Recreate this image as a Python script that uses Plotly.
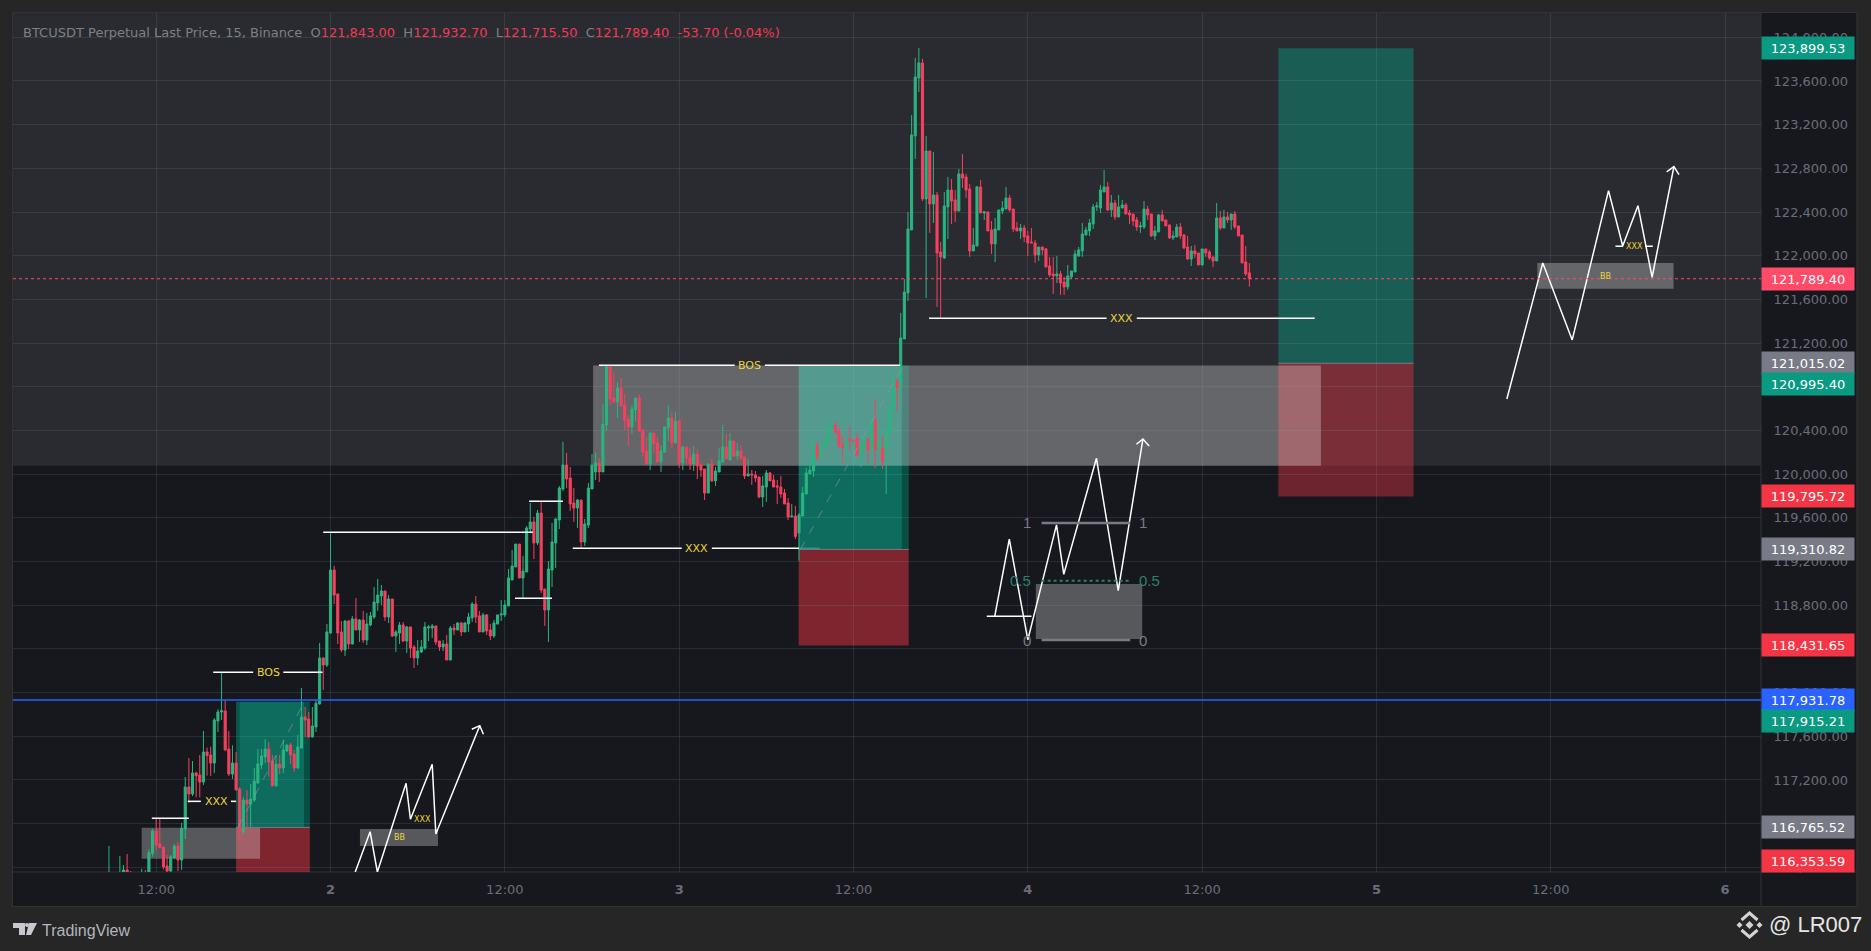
"""BTCUSDT 15 minute chart with the hand drawn zones, rebuilt in plotly."""

import pandas as pd
import plotly.graph_objects as go

# candles, 15 minute bars
first_bar = "2025-10-01 08:45"
open_prices = [
    116250,116300,116200,116280,116300,116375,116340,116260,116240,116290,
    116330,116270,116525,116733,116614,116583,116412,116366,116488,116596,
    116467,116751,117135,117071,117263,117245,117181,117456,117428,117355,
    117740,117822,117831,117483,117254,117355,117117,116723,117016,116980,
    117016,117172,117337,117410,117483,117373,117145,117346,117309,117465,
    117520,117437,117309,117492,117776,117758,117593,117685,117896,118317,
    118252,118545,119122,118903,118555,118390,118655,118445,118674,118573,
    118664,118481,118619,118692,118820,118884,118930,118692,118857,118518,
    118545,118619,118472,118601,118417,118317,118372,118408,118591,118591,
    118610,118472,118417,118445,118298,118591,118573,118637,118555,118628,
    118683,118811,118702,118555,118711,118573,118518,118628,118711,118711,
    118793,119031,119150,119360,119049,119104,119498,119562,119370,119644,
    118948,118756,119122,119370,119580,119864,120084,119965,119736,119690,
    119763,119379,119534,119864,120020,120102,120020,120450,120990,120697,
    120661,120789,120633,120505,120432,120588,120697,120404,120212,120093,
    120377,120285,120112,120203,120423,120514,120285,120487,120102,120249,
    120157,120093,120185,120084,120047,119827,120093,119938,120020,120112,
    120249,120130,120304,120167,120212,120157,119983,120002,119993,119974,
    119791,119882,120011,119946,119892,119882,119827,119736,119608,119616,
    119461,119616,119818,120002,120029,120267,120157,120249,120295,120414,
    120450,120395,120267,120249,120322,120300,120331,120166,120249,120322,
    120221,120505,120221,120240,120230,120395,120597,120862,120789,121238,
    121659,122236,123097,123628,123765,122520,122959,122474,122556,122034,
    121979,122447,122602,122511,122410,122749,122721,122611,122044,122089,
    122630,122392,122401,122236,122108,122236,122410,122428,122529,122428,
    122254,122227,122254,122181,122126,122117,122007,122080,122062,121906,
    121833,121815,121833,121760,121714,121806,121851,121998,122044,122190,
    122227,122291,122447,122437,122584,122630,122419,122483,122355,122437,
    122465,122392,122382,122327,122263,122263,122428,122382,122181,122218,
    122373,122327,122282,122163,122172,122263,122190,122080,121970,122044,
    122025,121915,122062,122034,121989,121952,122346,122254,122355,122327,
    122382,122273,122190,121943,121843,
]
high_prices = [
    116595,116340,116300,116503,116421,116522,116366,116320,116310,116387,
    116375,116565,116751,116849,116849,116590,116513,116513,116614,116634,
    116806,117227,117401,117373,117275,117428,117648,117495,117504,117767,
    117847,118188,117932,117648,117517,117456,117135,117044,117108,117163,
    117309,117483,117483,117575,117548,117428,117428,117428,117566,117520,
    117539,117474,117612,118042,117868,117822,117868,117932,118454,118320,
    118628,119468,119159,118903,118655,118664,118664,118702,118866,118674,
    118747,118729,118738,118967,119040,118985,118930,118893,118857,118573,
    118646,118646,118610,118601,118436,118481,118481,118646,118619,118628,
    118610,118472,118481,118527,118610,118628,118646,118646,118646,118729,
    118829,118884,118747,118729,118720,118628,118664,118711,118848,118848,
    119132,119306,119360,119360,119251,119525,119736,119608,119672,119745,
    118948,119205,119553,119598,119892,120295,120194,120066,119873,119773,
    119763,119589,119919,120185,120194,120148,120643,120995,120990,120926,
    120844,120880,120734,120542,120633,120697,120734,120404,120340,120377,
    120377,120340,120267,120432,120633,120570,120570,120505,120258,120249,
    120240,120258,120230,120102,120047,120093,120139,120066,120240,120450,
    120368,120377,120304,120285,120267,120157,120139,120038,120029,119974,
    119983,120038,120020,119993,119946,119983,119864,119782,119727,119708,
    119644,119882,120057,120166,120340,120304,120267,120340,120487,120487,
    120478,120423,120340,120313,120441,120310,120377,120313,120331,120322,
    120505,120688,120523,120359,120420,120752,120936,120862,121476,121787,
    122401,123289,123811,123902,123802,123097,122959,122950,122584,122126,
    122584,122721,122703,122602,122794,122932,122749,122657,122254,122639,
    122694,122410,122401,122318,122346,122419,122501,122630,122556,122428,
    122309,122291,122282,122227,122254,122144,122080,122080,122071,121989,
    121989,121998,121860,121806,121915,121860,122053,122080,122300,122263,
    122337,122474,122492,122648,122785,122675,122556,122511,122556,122511,
    122483,122419,122382,122355,122309,122501,122456,122382,122273,122382,
    122419,122327,122282,122227,122291,122300,122199,122181,122089,122098,
    122025,122062,122062,122053,121989,122483,122410,122419,122401,122382,
    122410,122273,122190,122089,121932.7,
]
low_prices = [
    116100,116150,116120,116200,116250,116280,116230,116200,116180,116250,
    116250,116250,116497,116558,116577,116380,116340,116350,116475,116366,
    116375,116660,116989,117053,117041,117041,117154,117239,117236,117263,
    117639,117749,117468,117236,117209,117108,116650,116696,116751,116760,
    116998,117165,117300,117355,117230,117145,117140,117254,117263,117460,
    117346,117273,117305,117488,117593,117590,117590,117639,117890,118023,
    118234,118540,118811,118445,118372,118335,118399,118440,118573,118463,
    118454,118436,118610,118674,118747,118802,118655,118637,118509,118372,
    118445,118463,118362,118317,118225,118252,118362,118390,118472,118500,
    118436,118381,118381,118298,118298,118527,118573,118518,118555,118555,
    118646,118637,118555,118555,118527,118481,118500,118625,118655,118692,
    118793,119031,119150,119049,118866,119104,119470,119223,119351,118912,
    118610,118463,118967,119141,119498,119846,119873,119663,119562,119507,
    119315,119342,119507,119864,119946,119928,120020,120395,120633,120652,
    120514,120625,120404,120258,120368,120487,120386,120157,120093,120038,
    120185,120112,120020,120194,120304,120240,120285,120057,120038,120084,
    120038,120029,119956,119974,119763,119827,119928,119892,120020,120112,
    120139,120121,120157,120130,120130,119956,119983,119901,119928,119782,
    119699,119745,119938,119882,119727,119782,119727,119580,119608,119406,
    119208,119616,119818,120002,119974,120121,120157,120249,120295,120414,
    120368,120240,120102,120157,120221,120290,120166,120066,120249,120102,
    120221,120057,120221,120047,119818,120395,120597,120578,120789,121238,
    121586,122236,122886,123500,122502,121613,122208,122300,121531,121430,
    121970,122153,122291,122309,122410,122620,122529,121989,122044,122089,
    122392,122327,122227,122016,121943,122236,122382,122428,122401,122218,
    122227,122153,122126,121998,122117,121934,121952,122007,121897,121806,
    121650,121751,121641,121641,121687,121787,121851,121989,121989,122190,
    122181,122245,122410,122392,122584,122410,122355,122327,122355,122437,
    122382,122291,122273,122227,122209,122245,122327,122172,122144,122218,
    122318,122273,122153,122144,122172,122153,122062,121961,121906,121979,
    121915,121915,121989,121961,121897,121952,122236,122254,122300,122236,
    122245,122181,121934,121815,121715.5,
]
close_prices = [
    116300,116200,116280,116340,116375,116300,116260,116240,116290,116330,
    116270,116534,116733,116604,116580,116403,116366,116497,116596,116467,
    116757,117135,117071,117263,117239,117181,117456,117422,117355,117749,
    117822,117834,117474,117254,117355,117108,116723,117016,116980,117025,
    117190,117346,117419,117483,117364,117145,117346,117309,117474,117520,
    117428,117309,117502,117776,117749,117593,117694,117902,118317,118252,
    118555,119122,118893,118545,118390,118655,118445,118674,118573,118664,
    118481,118628,118702,118829,118893,118930,118692,118857,118518,118555,
    118619,118472,118601,118408,118317,118381,118417,118601,118601,118610,
    118463,118417,118445,118298,118591,118573,118637,118555,118637,118692,
    118811,118692,118555,118711,118564,118518,118637,118711,118720,118802,
    119049,119159,119360,119049,119113,119507,119562,119370,119644,118939,
    118756,119132,119379,119589,119873,120084,119956,119727,119690,119763,
    119379,119544,119873,120084,120102,120020,120459,120990,120688,120661,
    120789,120625,120496,120432,120597,120697,120395,120203,120093,120377,
    120276,120112,120212,120432,120514,120285,120487,120102,120249,120148,
    120093,120185,120075,120038,119827,120093,119938,120029,120121,120249,
    120139,120304,120167,120212,120148,119983,120002,119993,119965,119791,
    119892,120011,119938,119882,119882,119818,119727,119608,119616,119430,
    119626,119827,120011,120038,120267,120157,120258,120304,120423,120450,
    120386,120258,120240,120295,120304,120300,120166,120258,120322,120221,
    120496,120221,120313,120112,120404,120606,120862,120789,121247,121668,
    122245,123106,123637,123765,122520,122959,122474,122556,122025,121989,
    122456,122602,122501,122410,122749,122712,122602,122044,122098,122630,
    122392,122401,122227,122108,122245,122419,122437,122529,122419,122245,
    122227,122254,122172,122117,122117,122007,122080,122053,121897,121824,
    121815,121833,121751,121714,121815,121860,122016,122053,122199,122236,
    122300,122447,122456,122602,122630,122419,122483,122355,122447,122465,
    122382,122373,122318,122263,122273,122428,122373,122181,122227,122373,
    122318,122273,122163,122181,122263,122181,122071,121970,122044,122016,
    121915,122062,122025,121979,121952,122346,122254,122355,122327,122382,
    122263,122181,121934,121833,121789.4,
]

# axes
price_ticks = list(range(116400, 124001, 400))
time_ticks = ["2025-10-01 12:00", "2025-10-02", "2025-10-02 12:00", "2025-10-03", "2025-10-03 12:00",
              "2025-10-04", "2025-10-04 12:00", "2025-10-05", "2025-10-05 12:00", "2025-10-06"]
time_labels = ["12:00", "<b>2</b>", "12:00", "<b>3</b>", "12:00", "<b>4</b>", "12:00", "<b>5</b>", "12:00", "<b>6</b>"]

# price tags on the right axis
tag_prices = [123899.53, 121789.40, 121015.02, 120995.40, 119795.72, 119310.82,
              118431.65, 117931.78, 117915.21, 116765.52, 116353.59]
tag_colors = ["#0a9981", "#ff4a68", "#787b86", "#0a9981", "#f23645", "#787b86",
              "#f23645", "#2962ff", "#0a9981", "#787b86", "#f23645"]

last_price = 121789.40
blue_level = 117931.78
band_floor = 120076

# drawings: bar numbers count 15 minute bars from the start of day 2
# long positions: left bar, right bar, target, entry, stop
positions = [
    (-26.0, -5.7, 117915.21, 116765.52, 116353.59),
    (128.9, 159.2, 120995.40, 119310.82, 118431.65),
    (261.0, 298.2, 123899.53, 121015.02, 119795.72),
]
# the top right one sits on the lighter band and looks duller
position_alpha = [(0.65, 0.47), (0.65, 0.47), (0.46, 0.40)]
position_diagonal = [True, True, False]
# grey order blocks: left bar, right bar, top, bottom
blocks = [
    (-52.0, -19.4, 116762, 116478),
    (8.1, 29.6, 116751, 116595),
    (72.3, 272.7, 120994, 120076),
    (194.2, 223.5, 118994, 118491),
    (332.3, 369.8, 121934, 121698),
]
# white levels: left bar, right bar, price
levels = [
    (73.9, 111.3, 120998), (119.6, 156.8, 120998),
    (-32.3, -21.3, 118186), (-13.0, -2.2, 118186),
    (-39.3, -35.7, 117004), (-27.4, -26.0, 117004),
    (-49.2, -39.0, 116849),
    (-2.0, 55.7, 119468),
    (54.7, 64.0, 119751),
    (50.8, 61.0, 118863),
    (66.7, 96.7, 119321), (105.0, 129.0, 119321),
    (164.8, 213.7, 121427), (222.0, 271.0, 121427),
    (180.7, 193.0, 118699),
    (353.8, 355.9, 122087), (362.0, 364.1, 122087),
]
# yellow labels: bar, price, text, size
marks = [
    (115.5, 120998, "BOS", 11), (-17.0, 118186, "BOS", 11),
    (-31.5, 117004, "XXX", 11), (100.8, 119321, "XXX", 11), (217.9, 121427, "XXX", 11),
    (25.4, 116840, "XXX", 8), (359.0, 122087, "XXX", 8),
    (19.0, 116671, "BB", 8), (351.0, 121812, "BB", 8),
]
# fib: left bar, right bar
fib_span = (195.8, 220.2)
fib_levels = [119553, 119024, 118481]
fib_names = ["1", "0.5", "0"]
fib_colors = ["#787b86", "#2f7f6c", "#787b86"]
fib_text_bars = [(191.7, 223.6), (189.9, 225.4), (191.7, 223.6)]

# white zigzags with arrow heads
zig_bars = [
    [6.8, 10.9, 12.9, 20.8, 22.0, 28.0, 29.0, 41.1],
    [182.9, 186.9, 192.0, 199.9, 201.9, 210.9, 216.9, 223.7],
    [323.9, 333.8, 341.9, 351.9, 355.8, 360.0, 363.9, 369.9],
]
zig_prices = [
    [116357, 116726, 116357, 117169, 116840, 117343, 116705, 117697],
    [118699, 119406, 118482, 119535, 119083, 120145, 118933, 120322],
    [120688, 121934, 121229, 122596, 122089, 122458, 121803, 122816],
]
head_bars = [[38.9, 41.1, 42.1], [221.9, 223.7, 225.4], [367.9, 369.9, 371.3]]
head_prices = [[117664, 117697, 117618], [120274, 120322, 120258], [122767, 122816, 122742]]

# page layout in pixels
WIDTH, HEIGHT = 1871, 951
PLOT_L, PLOT_R, PLOT_T, PLOT_B = 13, 1761.5, 13, 872

GREEN = "#2bb481"
RED = "#f6405f"
YELLOW = "#ecd63c"
FONT = "DejaVu Sans"
# see-through so the grid stays faint where it crosses the zones
GRID = "rgba(150,190,200,0.13)"

bar_zero = pd.Timestamp("2025-10-02")


def at(bar):
    return str(bar_zero + pd.Timedelta(minutes=15 * bar))


def page_x(px):
    return (px - PLOT_L) / (PLOT_R - PLOT_L)


def page_y(py):
    return (PLOT_B - py) / (PLOT_B - PLOT_T)


def page_path(points, close=True):
    parts = [f"{'M' if n == 0 else 'L'} {page_x(px):.5f} {page_y(py):.5f}" for n, (px, py) in enumerate(points)]
    return " ".join(parts) + (" Z" if close else "")


times = pd.date_range(first_bar, periods=len(open_prices), freq="15min")

fig = go.Figure()
fig.add_trace(go.Candlestick(
    x=times, open=open_prices, high=high_prices, low=low_prices, close=close_prices,
    increasing=dict(line=dict(color=GREEN, width=1), fillcolor=GREEN),
    decreasing=dict(line=dict(color=RED, width=1), fillcolor=RED),
    whiskerwidth=0, showlegend=False, hoverinfo="skip",
))

shapes = []


def box(bar0, bar1, top, bottom, color):
    shapes.append(dict(type="rect", xref="x", yref="y", x0=at(bar0), x1=at(bar1), y0=bottom, y1=top,
                       fillcolor=color, line=dict(width=0), layer="below"))


def hline(bar0, bar1, price, color="#ffffff", width=1.5, dash="solid"):
    shapes.append(dict(type="line", xref="x", yref="y", x0=at(bar0), x1=at(bar1), y0=price, y1=price,
                       line=dict(color=color, width=width, dash=dash), layer="above"))


# chart panel and lighter band on top of it
shapes.append(dict(type="rect", xref="paper", yref="paper", x0=page_x(12.5), x1=page_x(1857.5),
                   y0=page_y(906.5), y1=page_y(12.5), fillcolor="#17181e",
                   line=dict(color="#333336", width=1), layer="below"))
shapes.append(dict(type="rect", xref="x domain", yref="y", x0=0, x1=1, y0=band_floor, y1=124222,
                   fillcolor="rgba(255,255,255,0.083)", line=dict(width=0), layer="below"))

# long positions
for (bar0, bar1, target, entry, stop), (up, down), diagonal in zip(positions, position_alpha, position_diagonal):
    box(bar0, bar1, target, entry, f"rgba(8,153,129,{up})")
    box(bar0, bar1, entry, stop, f"rgba(242,54,69,{down})")
    hline(bar0, bar1, entry, color="#787b86", width=1)
    if diagonal:
        shapes.append(dict(type="line", xref="x", yref="y", x0=at(bar0 + 0.5), x1=at(bar1 - 1.5), y0=entry, y1=target,
                           line=dict(color="rgba(150,153,160,0.6)", width=1, dash="dash"), layer="above"))
# darker dotted strips on the first two
box(-26.0, -25.0, 117915.21, 116765.52, "rgba(0,0,0,0.2)")
box(-7.3, -5.7, 117915.21, 116765.52, "rgba(0,0,0,0.28)")
box(157.3, 159.2, 120995.40, 119310.82, "rgba(0,0,0,0.28)")

for bar0, bar1, top, bottom in blocks:
    box(bar0, bar1, top, bottom, "rgba(255,255,255,0.28)")

# levels
for bar0, bar1, price in levels:
    hline(bar0, bar1, price)
hline(129.0, 134.7, 119321, color="#2f9c82")
for price, color, width, dash in zip(fib_levels, fib_colors, [2.5, 2, 2.5], ["solid", "dot", "solid"]):
    hline(fib_span[0], fib_span[1], price, color=color, width=width, dash=dash)

shapes.append(dict(type="line", xref="x domain", yref="y", x0=0, x1=1, y0=last_price, y1=last_price,
                   line=dict(color="#ff4a68", width=1, dash="dot"), layer="above"))
shapes.append(dict(type="line", xref="x domain", yref="y", x0=0, x1=1, y0=blue_level, y1=blue_level,
                   line=dict(color="#2962ff", width=1.5), layer="above"))

# frame lines of the axis panels
shapes.append(dict(type="line", xref="paper", yref="paper", x0=page_x(PLOT_L), x1=page_x(1857.5),
                   y0=page_y(PLOT_B), y1=page_y(PLOT_B), line=dict(color="#2e3238", width=1), layer="below"))
shapes.append(dict(type="line", xref="paper", yref="paper", x0=page_x(PLOT_R), x1=page_x(PLOT_R),
                   y0=page_y(906.5), y1=page_y(12.5), line=dict(color="#2e3238", width=1), layer="below"))

# TradingView logo
logo = "#c8c9cc"
for pts in [
    [(13, 923), (25, 923), (25, 935), (19, 935), (19, 928), (13, 928)],
    [(29, 923), (37, 923), (31, 935), (26, 935)],
]:
    shapes.append(dict(type="path", xref="paper", yref="paper", path=page_path(pts),
                       fillcolor=logo, line=dict(width=0)))
shapes.append(dict(type="circle", xref="paper", yref="paper", x0=page_x(25), x1=page_x(29),
                   y0=page_y(927), y1=page_y(923), fillcolor=logo, line=dict(width=0)))

# binance mark
cx, cy = 1750, 925
binance = "#d4d4d4"
for dx, dy, r in [(0, 0, 4), (-10, 0, 3), (10, 0, 3)]:
    pts = [(cx + dx - r, cy + dy), (cx + dx, cy + dy - r), (cx + dx + r, cy + dy), (cx + dx, cy + dy + r)]
    shapes.append(dict(type="path", xref="paper", yref="paper", path=page_path(pts),
                       fillcolor=binance, line=dict(width=0)))
for sign in (-1, 1):
    pts = [(cx - 8, cy + sign * 5), (cx, cy + sign * 12), (cx + 8, cy + sign * 5)]
    shapes.append(dict(type="path", xref="paper", yref="paper", path=page_path(pts, close=False),
                       line=dict(color=binance, width=3)))

# zigzags
for bars, prices in zip(zig_bars + head_bars, zig_prices + head_prices):
    fig.add_trace(go.Scatter(x=[at(b) for b in bars], y=prices, mode="lines",
                             line=dict(color="#ffffff", width=1.5), showlegend=False, hoverinfo="skip"))

annotations = []


def page_text(px, py, text, size, color, anchor="left", family=FONT):
    annotations.append(dict(xref="paper", yref="paper", x=page_x(px), y=page_y(py), text=text, showarrow=False,
                            xanchor=anchor, yanchor="middle", font=dict(family=family, size=size, color=color)))


for bar, price, text, size in marks:
    annotations.append(dict(x=at(bar), y=price, text=text, showarrow=False,
                            font=dict(family=FONT, size=size, color=YELLOW)))

for price, name, color, bars in zip(fib_levels, fib_names, fib_colors, fib_text_bars):
    for bar in bars:
        annotations.append(dict(x=at(bar), y=price, text=name, showarrow=False,
                                font=dict(family="Liberation Sans", size=15, color=color)))

# price tags, the stacked ones are pushed clear of each other
tag_shift = {120995.40: -18.5, 117915.21: -19, 116353.59: 11}
for price, color in zip(tag_prices, tag_colors):
    annotations.append(dict(xref="paper", yref="y", x=1, xanchor="left", y=max(price, 116360),
                            yshift=tag_shift.get(price, 0), xshift=0, text=f"{price:,.2f}", showarrow=False,
                            width=90, height=20, bgcolor=color,
                            font=dict(family=FONT, size=13, color="#ffffff")))

# header line
val = '<span style="color:#f23a50">{}</span>'
legend = ("BTCUSDT Perpetual Last Price, 15, Binance  O" + val.format("121,843.00")
          + "  H" + val.format("121,932.70") + "  L" + val.format("121,715.50")
          + "  C" + val.format("121,789.40") + "  " + val.format("-53.70 (-0.04%)"))
page_text(21, 33, legend, 13, "#7d8087")
page_text(40, 930, "TradingView", 16, "#b2b5be", family="Liberation Sans")
page_text(1865, 924, "@ LR007", 22, "#e6e6e6", anchor="right", family="Liberation Sans")

fig.update_layout(
    width=WIDTH, height=HEIGHT,
    margin=dict(l=PLOT_L, r=WIDTH - PLOT_R, t=PLOT_T, b=HEIGHT - PLOT_B, autoexpand=False),
    paper_bgcolor="#262626", plot_bgcolor="#17181e",
    showlegend=False, hovermode=False, boxgap=0.18,
    shapes=shapes, annotations=annotations,
    font=dict(family=FONT, size=13, color="#6a6d78"),
    xaxis=dict(
        type="date", range=["2025-10-01 02:08:35", "2025-10-06 02:28:12"],
        rangeslider=dict(visible=False),
        tickmode="array", tickvals=time_ticks, ticktext=time_labels,
        showgrid=True, gridcolor=GRID, gridwidth=1, zeroline=False, showline=False,
        ticks="outside", ticklen=5, tickcolor="rgba(0,0,0,0)",
        tickfont=dict(family=FONT, size=13, color="#6a6d78"),
    ),
    yaxis=dict(
        side="right", range=[116357, 124222.5],
        tickmode="array", tickvals=price_ticks, tickformat=",.2f",
        showgrid=True, gridcolor=GRID, gridwidth=1, zeroline=False, showline=False,
        ticks="outside", ticklen=9, tickcolor="rgba(0,0,0,0)",
        tickfont=dict(family=FONT, size=13, color="#6a6d78"),
    ),
)

fig.write_html("out.html", config={"displayModeBar": False},
               post_script="document.body.style.margin='0';document.body.style.overflow='hidden';")
